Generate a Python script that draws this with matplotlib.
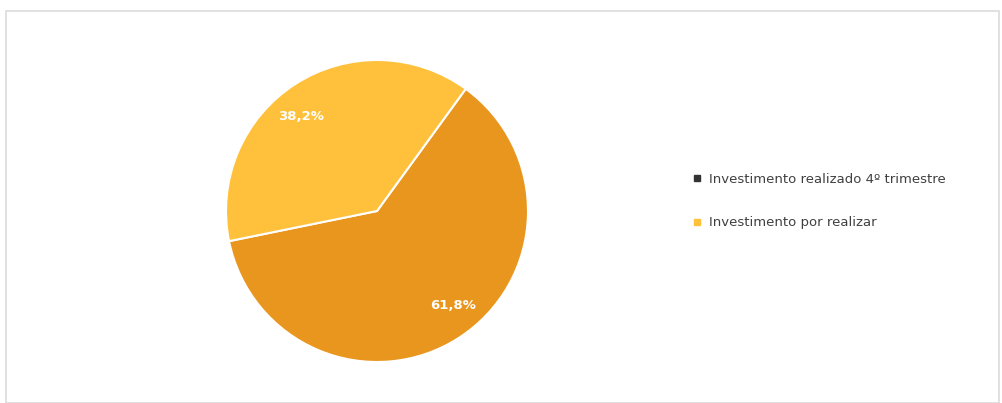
import numpy as np
import matplotlib.pyplot as plt
from matplotlib.lines import Line2D
from matplotlib.patches import Rectangle

labels = ["Investimento realizado 4º trimestre", "Investimento por realizar"]
values = [61.8, 38.2]
colors = ["#E9961F", "#FFC13B"]
pct_text = ["61,8%", "38,2%"]

fig = plt.figure(figsize=(10.02, 4.03), dpi=100)

# light frame around the chart area
fig.patches.append(Rectangle((6 / 1002, 0.0), 993 / 1002, 392 / 403, transform=fig.transFigure,
                             fill=False, edgecolor="#dcdcdc", linewidth=1.2))

# pie axes: centre ~ (377, 211) px, radius ~151 px
cx, cy, r = 377, 211, 151
ax = fig.add_axes([(cx - r) / 1002, (403 - cy - r) / 403, 2 * r / 1002, 2 * r / 403])

wedges, _ = ax.pie(values, colors=colors, startangle=54, counterclock=False,
                   wedgeprops=dict(edgecolor="white", linewidth=1.5))
ax.set_xlim(-1, 1)
ax.set_ylim(-1, 1)
ax.set_aspect("equal")

# percentage labels, pulled a little toward the lower left like the original
for w, t in zip(wedges, pct_text):
    ang = np.deg2rad((w.theta1 + w.theta2) / 2 + 6)
    ax.text(0.8 * np.cos(ang), 0.8 * np.sin(ang), t, ha="center", va="center",
            color="white", fontsize=9.5, fontweight="bold")

handles = [Line2D([], [], marker="s", linestyle="", markersize=4, color="#333333"),
           Line2D([], [], marker="s", linestyle="", markersize=4, color=colors[1])]
fig.legend(handles, labels, loc="center left", bbox_to_anchor=(681 / 1002, 1 - 201 / 403),
           frameon=False, fontsize=9.5, labelcolor="#404040", handlelength=0.6,
           handletextpad=0.6, labelspacing=2.3)

plt.savefig("out.png", dpi=100)
